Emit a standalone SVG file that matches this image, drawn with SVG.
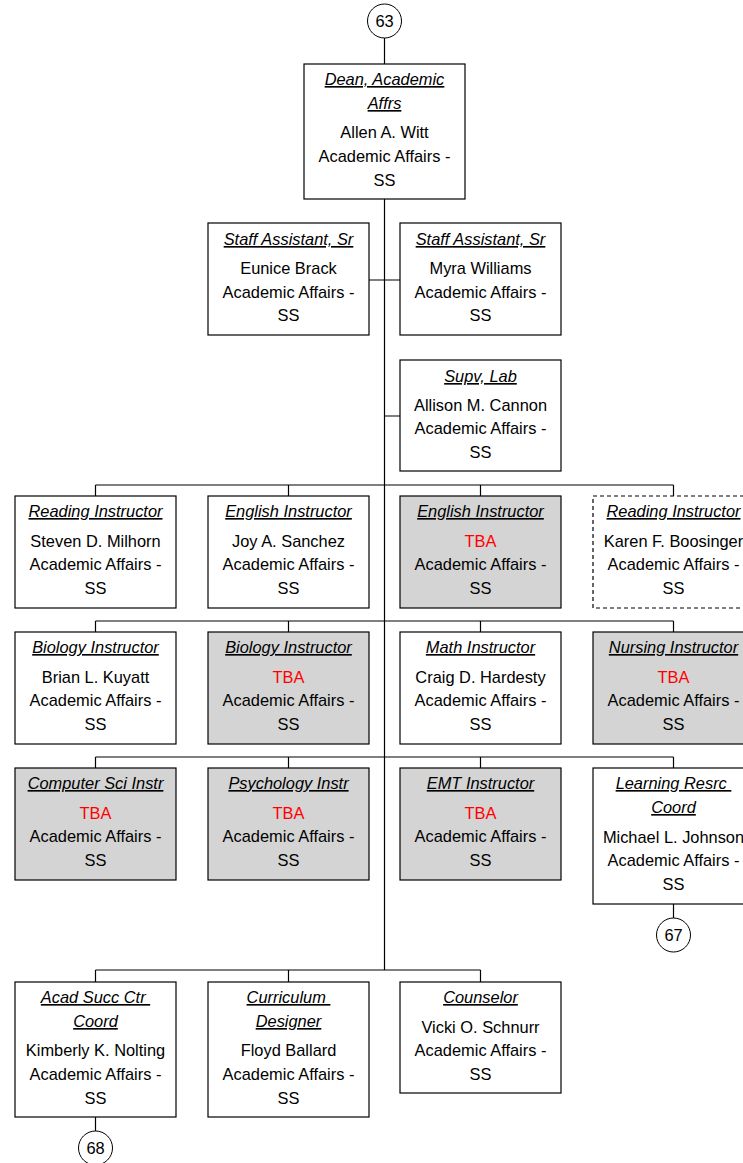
<svg xmlns="http://www.w3.org/2000/svg" width="743" height="1163" viewBox="0 0 743 1163">
<style>
text{font-family:"Liberation Sans",Arial,sans-serif;font-size:16.4px;fill:#000;text-anchor:middle}
.t{font-style:italic;text-decoration:underline}
.r{fill:#ff0000}
.b{fill:#fff;stroke:#000;stroke-width:1.2}
.g{fill:#d4d4d4;stroke:#000;stroke-width:1.2}
.d{fill:#fff;stroke:#000;stroke-width:1.2;stroke-dasharray:4 3}
.c{fill:#fff;stroke:#000;stroke-width:1}
.l{stroke:#000;stroke-width:1.2;fill:none}
</style>
<rect width="743" height="1163" fill="#fff"/>
<g id="connectors">
<path class="l" d="M384.5 38V64M384.5 199V970M369 280H400M384.5 416H400"/>
<path class="l" d="M95.5 485H673.5M95.5 485V496M288.5 485V496M480.5 485V496M673.5 485V496"/>
<path class="l" d="M95.5 621H673.5M95.5 621V632M288.5 621V632M480.5 621V632M673.5 621V632"/>
<path class="l" d="M95.5 757H673.5M95.5 757V768M288.5 757V768M480.5 757V768M673.5 757V768"/>
<path class="l" d="M95.5 970H480.5M95.5 970V982M288.5 970V982M480.5 970V982"/>
<path class="l" d="M673.5 904V918M95.5 1117V1131"/>
</g>
<g id="off63"><circle class="c" cx="384.5" cy="21" r="17"/><text x="384.5" y="27" font-size="15">63</text></g>
<g id="dean"><rect class="b" x="304" y="64" width="161" height="135"/>
<text class="t" x="384.5" y="85">Dean, Academic</text><text class="t" x="384.5" y="109">Affrs</text>
<text x="384.5" y="138">Allen A. Witt</text><text x="384.5" y="162">Academic Affairs -</text><text x="384.5" y="186">SS</text></g>
<g id="staff1"><rect class="b" x="208" y="223" width="161" height="112"/>
<text class="t" x="288.5" y="245">Staff Assistant, Sr</text><text x="288.5" y="274">Eunice Brack</text><text x="288.5" y="298">Academic Affairs -</text><text x="288.5" y="321">SS</text></g>
<g id="staff2"><rect class="b" x="400" y="223" width="161" height="112"/>
<text class="t" x="480.5" y="245">Staff Assistant, Sr</text><text x="480.5" y="274">Myra Williams</text><text x="480.5" y="298">Academic Affairs -</text><text x="480.5" y="321">SS</text></g>
<g id="supvlab"><rect class="b" x="400" y="360" width="161" height="111"/>
<text class="t" x="480.5" y="382">Supv, Lab</text><text x="480.5" y="411">Allison M. Cannon</text><text x="480.5" y="434">Academic Affairs -</text><text x="480.5" y="458">SS</text></g>
<!-- row 1 -->
<g id="read1"><rect class="b" x="15" y="496" width="161" height="112"/>
<text class="t" x="95.5" y="517">Reading Instructor</text><text x="95.5" y="547">Steven D. Milhorn</text><text x="95.5" y="570">Academic Affairs -</text><text x="95.5" y="594">SS</text></g>
<g id="eng1"><rect class="b" x="208" y="496" width="161" height="112"/>
<text class="t" x="288.5" y="517">English Instructor</text><text x="288.5" y="547">Joy A. Sanchez</text><text x="288.5" y="570">Academic Affairs -</text><text x="288.5" y="594">SS</text></g>
<g id="eng2"><rect class="g" x="400" y="496" width="161" height="112"/>
<text class="t" x="480.5" y="517">English Instructor</text><text class="r" x="480.5" y="547">TBA</text><text x="480.5" y="570">Academic Affairs -</text><text x="480.5" y="594">SS</text></g>
<g id="read2"><rect class="d" x="593" y="496" width="161" height="112"/>
<text class="t" x="673.5" y="517">Reading Instructor</text><text x="673.5" y="547">Karen F. Boosinger</text><text x="673.5" y="570">Academic Affairs -</text><text x="673.5" y="594">SS</text></g>
<!-- row 2 -->
<g id="bio1"><rect class="b" x="15" y="632" width="161" height="112"/>
<text class="t" x="95.5" y="653">Biology Instructor</text><text x="95.5" y="683">Brian L. Kuyatt</text><text x="95.5" y="706">Academic Affairs -</text><text x="95.5" y="730">SS</text></g>
<g id="bio2"><rect class="g" x="208" y="632" width="161" height="112"/>
<text class="t" x="288.5" y="653">Biology Instructor</text><text class="r" x="288.5" y="683">TBA</text><text x="288.5" y="706">Academic Affairs -</text><text x="288.5" y="730">SS</text></g>
<g id="math"><rect class="b" x="400" y="632" width="161" height="112"/>
<text class="t" x="480.5" y="653">Math Instructor</text><text x="480.5" y="683">Craig D. Hardesty</text><text x="480.5" y="706">Academic Affairs -</text><text x="480.5" y="730">SS</text></g>
<g id="nurse"><rect class="g" x="593" y="632" width="161" height="112"/>
<text class="t" x="673.5" y="653">Nursing Instructor</text><text class="r" x="673.5" y="683">TBA</text><text x="673.5" y="706">Academic Affairs -</text><text x="673.5" y="730">SS</text></g>
<!-- row 3 -->
<g id="compsci"><rect class="g" x="15" y="768" width="161" height="112"/>
<text class="t" x="95.5" y="789">Computer Sci Instr</text><text class="r" x="95.5" y="819">TBA</text><text x="95.5" y="842">Academic Affairs -</text><text x="95.5" y="866">SS</text></g>
<g id="psych"><rect class="g" x="208" y="768" width="161" height="112"/>
<text class="t" x="288.5" y="789">Psychology Instr</text><text class="r" x="288.5" y="819">TBA</text><text x="288.5" y="842">Academic Affairs -</text><text x="288.5" y="866">SS</text></g>
<g id="emt"><rect class="g" x="400" y="768" width="161" height="112"/>
<text class="t" x="480.5" y="789">EMT Instructor</text><text class="r" x="480.5" y="819">TBA</text><text x="480.5" y="842">Academic Affairs -</text><text x="480.5" y="866">SS</text></g>
<g id="learn"><rect class="b" x="593" y="768" width="161" height="136"/>
<text class="t" x="673.5" y="789">Learning Resrc&#160;</text><text class="t" x="673.5" y="813">Coord</text><text x="673.5" y="843">Michael L. Johnson</text><text x="673.5" y="866">Academic Affairs -</text><text x="673.5" y="890">SS</text></g>
<g id="off67"><circle class="c" cx="673.5" cy="935" r="17"/><text x="673.5" y="941" font-size="15">67</text></g>
<!-- row 4 -->
<g id="acad"><rect class="b" x="15" y="982" width="161" height="135"/>
<text class="t" x="95.5" y="1003">Acad Succ Ctr&#160;</text><text class="t" x="95.5" y="1027">Coord</text><text x="95.5" y="1056">Kimberly K. Nolting</text><text x="95.5" y="1080">Academic Affairs -</text><text x="95.5" y="1104">SS</text></g>
<g id="curr"><rect class="b" x="208" y="982" width="161" height="135"/>
<text class="t" x="288.5" y="1003">Curriculum&#160;</text><text class="t" x="288.5" y="1027">Designer</text><text x="288.5" y="1056">Floyd Ballard</text><text x="288.5" y="1080">Academic Affairs -</text><text x="288.5" y="1104">SS</text></g>
<g id="couns"><rect class="b" x="400" y="982" width="161" height="111"/>
<text class="t" x="480.5" y="1003">Counselor</text><text x="480.5" y="1033">Vicki O. Schnurr</text><text x="480.5" y="1056">Academic Affairs -</text><text x="480.5" y="1080">SS</text></g>
<g id="off68"><circle class="c" cx="95.5" cy="1148" r="17"/><text x="95.5" y="1154" font-size="15">68</text></g>
</svg>
